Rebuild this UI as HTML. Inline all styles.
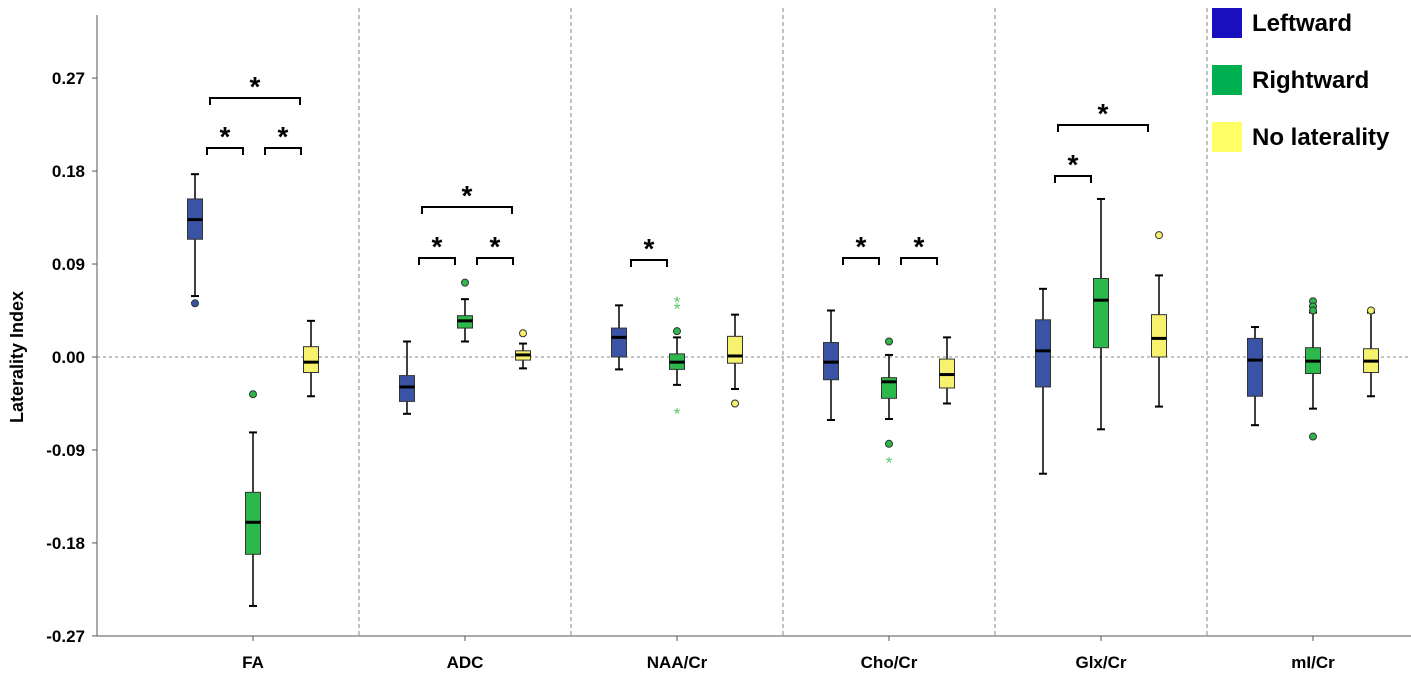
<!DOCTYPE html>
<html><head><meta charset="utf-8"><style>
body{margin:0;background:#fff;width:1411px;height:676px;overflow:hidden}
svg text{font-family:"Liberation Sans",Arial,sans-serif;font-weight:bold;fill:#000}
</style></head><body>
<svg id="chart" width="1411" height="676"></svg>
<script>
const categories=["FA","ADC","NAA/Cr","Cho/Cr","Glx/Cr","mI/Cr"];
const groups=["Leftward","Rightward","No laterality"];
const yTicks=[0.27,0.18,0.09,0.00,-0.09,-0.18,-0.27];
const yTickLabels=["0.27","0.18","0.09","0.00","-0.09","-0.18","-0.27"];
// [whiskerLow, q1, median, q3, whiskerHigh] per category, per group
const leftStats=[[0.059,0.114,0.133,0.153,0.177],[-0.055,-0.043,-0.029,-0.018,0.015],[-0.012,0.000,0.019,0.028,0.050],[-0.061,-0.022,-0.005,0.014,0.045],[-0.113,-0.029,0.006,0.036,0.066],[-0.066,-0.038,-0.003,0.018,0.029]];
const rightStats=[[-0.241,-0.191,-0.160,-0.131,-0.073],[0.015,0.028,0.035,0.040,0.056],[-0.027,-0.012,-0.005,0.003,0.019],[-0.060,-0.040,-0.024,-0.020,0.002],[-0.070,0.009,0.055,0.076,0.153],[-0.050,-0.016,-0.004,0.009,0.043]];
const noneStats=[[-0.038,-0.015,-0.005,0.010,0.035],[-0.011,-0.003,0.002,0.006,0.013],[-0.031,-0.006,0.001,0.020,0.041],[-0.045,-0.030,-0.017,-0.002,0.019],[-0.048,0.000,0.018,0.041,0.079],[-0.038,-0.015,-0.004,0.008,0.043]];
// outliers: [categoryIndex, groupIndex, value, type]
const outliers=[[0,0,0.052,"o"],[0,1,-0.036,"o"],[1,1,0.072,"o"],[1,2,0.023,"o"],[2,1,0.025,"o"],[2,1,0.055,"*"],[2,1,0.049,"*"],[2,1,-0.053,"*"],[2,2,-0.045,"o"],[3,1,0.015,"o"],[3,1,-0.084,"o"],[3,1,-0.100,"*"],[4,2,0.118,"o"],[5,1,0.054,"o"],[5,1,0.049,"o"],[5,1,0.045,"o"],[5,1,-0.077,"o"],[5,2,0.045,"o"]];
// significance: [categoryIndex, groupA, groupB, level(0 low,1 high)]
const sigs=[[0,0,1,0],[0,1,2,0],[0,0,2,1],[1,0,1,0],[1,1,2,0],[1,0,2,1],[2,0,1,0],[3,0,1,0],[3,1,2,0],[4,0,1,0],[4,0,2,1]];
const sigY=[[148,98],[258,207],[260,0],[258,0],[176,125],[0,0]];

const fills=["#3a53a4","#2db84b","#f7f26d"];
const legendColors=["#1a0fbf","#00b050","#ffff66"];
const stats=[leftStats,rightStats,noneStats];
const NS="http://www.w3.org/2000/svg";
const svg=document.getElementById("chart");
function y(v){return 357-v*1033;}
function xc(i){return 253+212*i;}
function xg(i,g){return xc(i)+(g-1)*58;}
function mk(t,a,p){const e=document.createElementNS(NS,t);for(const k in a)e.setAttribute(k,a[k]);(p||svg).appendChild(e);return e;}

let ax=mk("line",{x1:97,y1:15,x2:97,y2:636,stroke:"#555","stroke-width":1});


let bx=mk("line",{x1:97,y1:636,x2:1411,y2:636,stroke:"#555","stroke-width":1});


yTicks.forEach((v,k)=>{
  mk("line",{x1:92,x2:97,y1:y(v),y2:y(v),stroke:"#555"});
  const t=mk("text",{x:85,y:y(v)+6,"text-anchor":"end","font-size":17});
  t.textContent=yTickLabels[k];
  
  
});
const yl=mk("text",{transform:"translate(23,357) rotate(-90)","text-anchor":"middle","font-size":18});
yl.textContent="Laterality Index";


let zl=mk("line",{x1:97,x2:1411,y1:y(0),y2:y(0),stroke:"#888","stroke-dasharray":"3,3"});


categories.forEach((c,i)=>{
  if(i<categories.length-1){const d=mk("line",{x1:xc(i)+106,x2:xc(i)+106,y1:8,y2:636,stroke:"#777","stroke-dasharray":"4,3","stroke-width":0.9});
  
  }
  mk("line",{x1:xc(i),x2:xc(i),y1:636,y2:641,stroke:"#555"});
  const t=mk("text",{x:xc(i),y:668,"text-anchor":"middle","font-size":17});
  t.textContent=c;
  
  
});
stats.forEach((arr,g)=>arr.forEach((s,i)=>{
  const x=xg(i,g),w=15;
  const gr=mk("g",{});
  
  
  mk("line",{x1:x,x2:x,y1:y(s[0]),y2:y(s[4]),stroke:"#000","stroke-width":1.5},gr);
  mk("line",{x1:x-4,x2:x+4,y1:y(s[0]),y2:y(s[0]),stroke:"#000","stroke-width":2},gr);
  mk("line",{x1:x-4,x2:x+4,y1:y(s[4]),y2:y(s[4]),stroke:"#000","stroke-width":2},gr);
  mk("rect",{x:x-w/2,y:y(s[3]),width:w,height:y(s[1])-y(s[3]),fill:fills[g],stroke:"#333","stroke-width":1},gr);
  mk("line",{x1:x-w/2,x2:x+w/2,y1:y(s[2]),y2:y(s[2]),stroke:"#000","stroke-width":3},gr);
}));
outliers.forEach(o=>{
  const x=xg(o[0],o[1]);let e;
  if(o[3]==="o"){e=mk("circle",{cx:x,cy:y(o[2]),r:3.5,fill:fills[o[1]],stroke:"#333","stroke-width":1});}
  else{e=mk("text",{x:x,y:y(o[2])+8,"text-anchor":"middle","font-size":17,style:"fill:#5ac86a;font-weight:normal"});e.textContent="*";}
  
  
});
sigs.forEach(s=>{
  const big=s[3]===1;
  const yy=sigY[s[0]][s[3]];
  const x1=xg(s[0],s[1])+(big?15:12), x2=xg(s[0],s[2])-(big?11:10);
  const gr=mk("g",{});
  
  
  mk("path",{d:`M${x1},${yy+7}V${yy}H${x2}V${yy+7}`,fill:"none",stroke:"#000","stroke-width":2},gr);
  const t=mk("text",{x:(x1+x2)/2,y:yy-2,"text-anchor":"middle","font-size":28},gr);
  t.textContent="*";
});
groups.forEach((g,k)=>{
  const yy=8+57*k;
  const r=mk("rect",{x:1212,y:yy,width:30,height:30,fill:legendColors[k]});
  
  
  const t=mk("text",{x:1252,y:yy+23,"font-size":24});
  t.textContent=g;
  
  
});
</script>
</body></html>
